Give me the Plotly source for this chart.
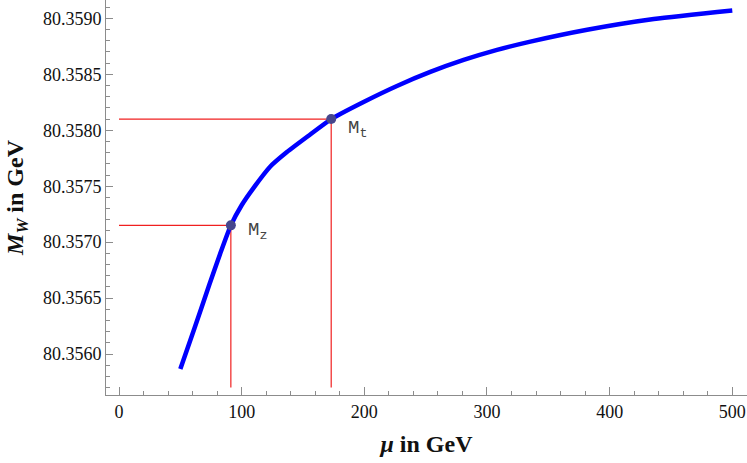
import plotly.graph_objects as go

# Curve data
mu = [50.0, 61.6, 73.4, 82.4, 91.19, 100.1, 109.6, 123.2, 136.9, 155.9, 173.0,
      199.4, 226.6, 253.8, 281.0, 308.2, 335.4, 381.7, 436.0, 500.0]
mw = [80.355866, 80.356232, 80.356612, 80.356894, 80.35715, 80.357332,
      80.357483, 80.357674, 80.357805, 80.357962, 80.3581, 80.358253,
      80.358396, 80.358521, 80.358628, 80.358718, 80.358792, 80.358898,
      80.358994, 80.359071]

# Marked points
pt_names = ["M<sub>z</sub>", "M<sub>t</sub>"]
pt_mu = [91.19, 173.0]
pt_mw = [80.35715, 80.3581]
label_dy = [-6, -10]

x_range = [-10.6, 512]
y_range = [80.355634, 80.359164]
y_floor = 80.3557

fig = go.Figure()

red = "#f02020"
for xm, ym in zip(pt_mu, pt_mw):
    fig.add_trace(go.Scatter(x=[0, xm], y=[ym, ym], mode="lines",
                             line=dict(color=red, width=1.2), hoverinfo="skip"))
    fig.add_trace(go.Scatter(x=[xm, xm], y=[ym, y_floor], mode="lines",
                             line=dict(color=red, width=1.2), hoverinfo="skip"))

fig.add_trace(go.Scatter(x=mu, y=mw, mode="lines",
                         line=dict(color="#0000ff", width=4.5, shape="spline", smoothing=0.6)))

fig.add_trace(go.Scatter(x=pt_mu, y=pt_mw, mode="markers",
                         marker=dict(color="#46468c", size=10)))

for name, xm, ym, dy in zip(pt_names, pt_mu, pt_mw, label_dy):
    fig.add_annotation(x=xm, y=ym, text=name, showarrow=False,
                       xanchor="left", yanchor="middle", xshift=15, yshift=dy,
                       font=dict(family="Liberation Mono", size=19, color="#444444"))

axis_color = "#8c8c8c"
serif = "Liberation Serif, Times New Roman, serif"
tick_font = dict(family=serif, size=18, color="#111111")
title_font = dict(family=serif, size=24, color="#111111")

fig.update_layout(
    width=747, height=463,
    margin=dict(l=106, r=0, t=0, b=68),
    paper_bgcolor="white", plot_bgcolor="white",
    showlegend=False,
    font=dict(family=serif, size=18, color="#111111"),
    xaxis=dict(range=x_range, showgrid=False, zeroline=False, automargin=False,
               showline=True, linecolor=axis_color, linewidth=1,
               ticks="inside", ticklen=8, tickcolor=axis_color, tickwidth=1,
               tick0=0, dtick=100, tickfont=tick_font,
               minor=dict(ticks="inside", ticklen=4, tickcolor=axis_color, dtick=20, tick0=0),
               title=dict(text="<b><i>μ</i> in GeV</b>", font=title_font, standoff=14)),
    yaxis=dict(range=y_range, showgrid=False, zeroline=False, automargin=False,
               showline=True, linecolor=axis_color, linewidth=1,
               ticks="inside", ticklen=7, tickcolor=axis_color, tickwidth=1,
               tick0=80.356, dtick=0.0005, tickformat=".4f", tickfont=tick_font,
               minor=dict(ticks="inside", ticklen=4, tickcolor=axis_color, dtick=0.0001, tick0=80.356),
               title=dict(text="<b><i>M</i><sub><i>W</i></sub> in GeV</b>", font=title_font, standoff=12)),
)

fig.write_html("out.html", config={"displayModeBar": False},
               post_script="document.body.style.margin='0px';")
